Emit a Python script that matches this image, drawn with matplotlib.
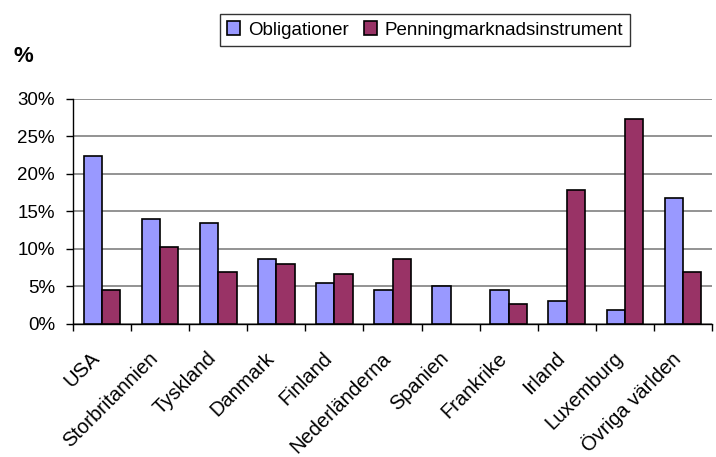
import matplotlib
matplotlib.use("Agg")
import matplotlib.pyplot as plt
import matplotlib.transforms as mtransforms
import numpy as np
from matplotlib.ticker import FuncFormatter, FixedLocator

plt.rcParams['font.family'] = ['Liberation Sans', 'DejaVu Sans']

categories = ["USA", "Storbritannien", "Tyskland", "Danmark", "Finland",
              "Nederländerna", "Spanien", "Frankrike", "Irland", "Luxemburg",
              "Övriga världen"]
obligationer = [22.3, 14.0, 13.5, 8.7, 5.5, 4.5, 5.0, 4.5, 3.1, 1.8, 16.7]
penning = [4.5, 10.3, 6.9, 8.0, 6.6, 8.7, 0.0, 2.6, 17.8, 27.3, 6.9]
series_names = ["Obligationer", "Penningmarknadsinstrument"]
yticks = [0, 5, 10, 15, 20, 25, 30]

fig = plt.figure(figsize=(7.16, 4.57), dpi=100)
ax = fig.add_axes([73/716, 1 - 324/457, (712-73)/716, (324-98.5)/457])

x = np.arange(len(categories))
w = 0.315
b1 = ax.bar(x - w/2, obligationer, w, color="#9999FF", edgecolor="black", linewidth=1.2,
            label=series_names[0], zorder=3)
b2 = ax.bar(x + w/2, penning, w, color="#993366", edgecolor="black", linewidth=1.2,
            label=series_names[1], zorder=3)
for bars, vals in ((b1, obligationer), (b2, penning)):
    for r, v in zip(bars, vals):
        if v == 0:
            r.set_visible(False)

ax.set_xlim(-0.5, len(categories) - 0.5)
ax.set_ylim(0, 30)
ax.set_yticks(yticks)
ax.yaxis.set_major_formatter(FuncFormatter(lambda v, p: f"{int(v)}%"))
ax.grid(axis='y', color="#808080", linewidth=1.2, zorder=0)
ax.set_axisbelow(True)

for s in ["top", "right"]:
    ax.spines[s].set_visible(False)
ax.spines["left"].set_color("black")
ax.spines["bottom"].set_color("black")
ax.spines["left"].set_linewidth(1.0)
ax.spines["bottom"].set_linewidth(1.0)

fs = 13.5
ax.set_xticks(x)
ax.set_xticklabels(categories, rotation=45, ha="right", va="center",
                   rotation_mode="anchor", fontsize=14.5)
ax.tick_params(axis='x', length=0, pad=16)
offset = mtransforms.ScaledTranslation(-5/100, -9/100, fig.dpi_scale_trans)
for lbl in ax.get_xticklabels():
    lbl.set_transform(lbl.get_transform() + offset)
ax.xaxis.set_minor_locator(FixedLocator(np.arange(-0.5, len(categories), 1.0)))
ax.tick_params(axis='x', which='minor', length=5, width=1.0, direction='out')
ax.tick_params(axis='y', length=5, width=1.0, direction='out', labelsize=fs, pad=8)

fig.text(14/716, 1 - 56/457, "%", fontsize=16, fontweight="bold", va="center", ha="left")

leg = fig.legend(loc="center", bbox_to_anchor=(425/716, 1 - 30/457), ncol=2,
                 frameon=True, fancybox=False, edgecolor="black", fontsize=fs,
                 handlelength=0.7, handleheight=0.7, handletextpad=0.4,
                 columnspacing=0.8, borderpad=0.4)
leg.get_frame().set_linewidth(1.0)

fig.savefig("out.png", dpi=100)
